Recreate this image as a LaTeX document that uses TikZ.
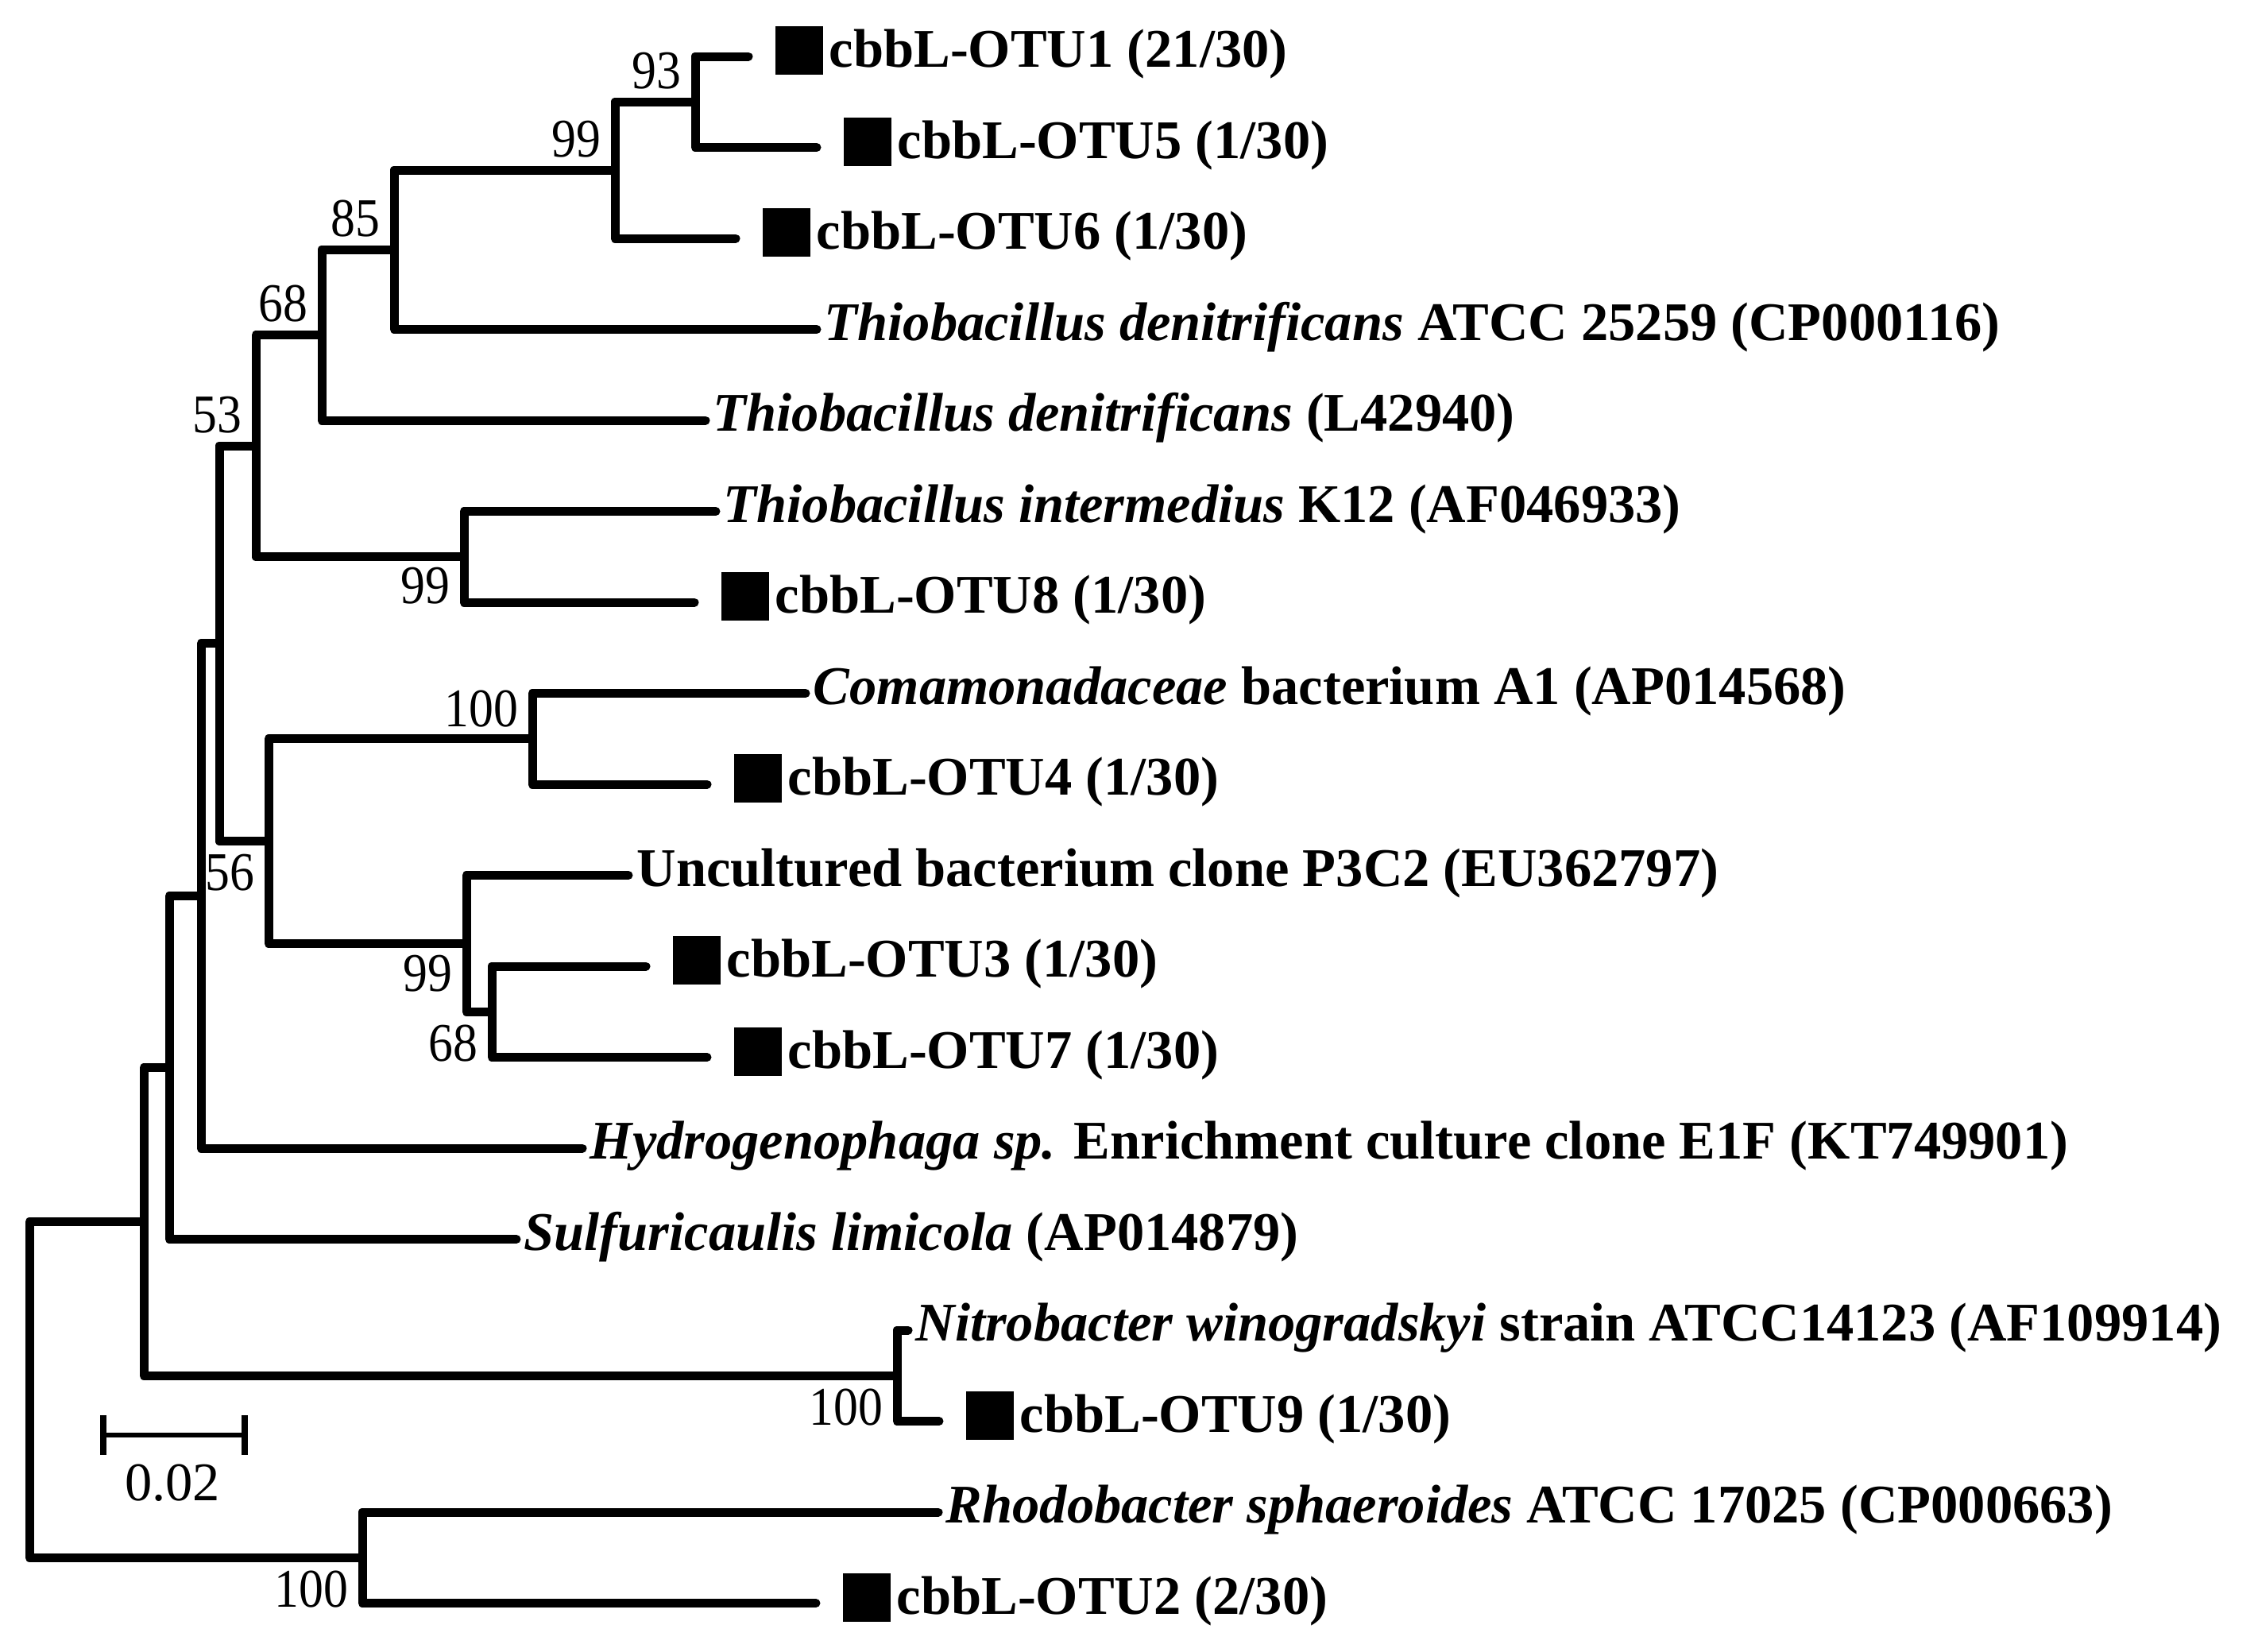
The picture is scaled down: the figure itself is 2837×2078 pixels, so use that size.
\documentclass[tikz,border=0pt]{standalone}
\usepackage{fontspec}
\setmainfont{Liberation Serif}
\usetikzlibrary{calc}
\begin{document}
\begin{tikzpicture}[x=0.1mm,y=-0.1mm,
  br/.style={line width=1.1mm, line cap=round, line join=round},
  leaflab/.style={font=\fontsize{19.5pt}{23pt}\selectfont\bfseries, anchor=base west, inner sep=0pt},
  bslab/.style={font=\fontsize{19.5pt}{23pt}\selectfont, anchor=base east, inner sep=0pt},
  sqbox/.style={fill=black, minimum width=6mm, minimum height=6.1mm, inner sep=0pt, anchor=west}]
\useasboundingbox (0,0) rectangle (2837,2078);

% leaf ends
\coordinate (l0) at (942,71);
\coordinate (l1) at (1028,185.5);
\coordinate (l2) at (926,300);
\coordinate (l3) at (1028,414.5);
\coordinate (l4) at (888,529);
\coordinate (l5) at (901,643.5);
\coordinate (l6) at (874,758);
\coordinate (l7) at (1014,872.5);
\coordinate (l8) at (890,987);
\coordinate (l9) at (791,1101.5);
\coordinate (l10) at (813,1216);
\coordinate (l11) at (890,1330.5);
\coordinate (l12) at (733,1445);
\coordinate (l13) at (650,1559.5);
\coordinate (l14) at (1143,1674);
\coordinate (l15) at (1182,1788.5);
\coordinate (l16) at (1181,1903);
\coordinate (l17) at (1027,2017.5);

% internal nodes
\coordinate (n93) at (875,128.3);
\coordinate (n99a) at (774,214);
\coordinate (n85) at (496,314);
\coordinate (n68a) at (405,421.5);
\coordinate (n99b) at (584,700.8);
\coordinate (n53) at (322,561);
\coordinate (n100a) at (670,929.8);
\coordinate (n68b) at (619,1273.3);
\coordinate (n99c) at (587,1187.4);
\coordinate (n56) at (338,1058.6);
\coordinate (nA) at (276,809.8);
\coordinate (nB) at (253,1127.4);
\coordinate (nC) at (213,1343.5);
\coordinate (nN) at (1129,1731.3);
\coordinate (nD) at (181,1537.4);
\coordinate (nR) at (456,1960.3);
\coordinate (root) at (37,1748.8);

% branches
\draw[br] (n93) |- (l0);
\draw[br] (n93) |- (l1);
\draw[br] (n99a) |- (n93);
\draw[br] (n99a) |- (l2);
\draw[br] (n85) |- (n99a);
\draw[br] (n85) |- (l3);
\draw[br] (n68a) |- (n85);
\draw[br] (n68a) |- (l4);
\draw[br] (n53) |- (n68a);
\draw[br] (n53) |- (n99b);
\draw[br] (n99b) |- (l5);
\draw[br] (n99b) |- (l6);
\draw[br] (nA) |- (n53);
\draw[br] (nA) |- (n56);
\draw[br] (n56) |- (n100a);
\draw[br] (n56) |- (n99c);
\draw[br] (n100a) |- (l7);
\draw[br] (n100a) |- (l8);
\draw[br] (n99c) |- (l9);
\draw[br] (n99c) |- (n68b);
\draw[br] (n68b) |- (l10);
\draw[br] (n68b) |- (l11);
\draw[br] (nB) |- (nA);
\draw[br] (nB) |- (l12);
\draw[br] (nC) |- (nB);
\draw[br] (nC) |- (l13);
\draw[br] (nD) |- (nC);
\draw[br] (nD) |- (nN);
\draw[br] (nN) |- (l14);
\draw[br] (nN) |- (l15);
\draw[br] (root) |- (nD);
\draw[br] (root) |- (nR);
\draw[br] (nR) |- (l16);
\draw[br] (nR) |- (l17);

% square markers
\node[sqbox] (q0) at ($(l0)+(33,-7.5)$) {};
\node[sqbox] (q1) at ($(l1)+(33,-7.5)$) {};
\node[sqbox] (q2) at ($(l2)+(33,-7.5)$) {};
\node[sqbox] (q6) at ($(l6)+(33,-7.5)$) {};
\node[sqbox] (q8) at ($(l8)+(33,-7.5)$) {};
\node[sqbox] (q10) at ($(l10)+(33,-7.5)$) {};
\node[sqbox] (q11) at ($(l11)+(33,-7.5)$) {};
\node[sqbox] (q15) at ($(l15)+(33,-7.5)$) {};
\node[sqbox] (q17) at ($(l17)+(33,-7.5)$) {};

% leaf labels
\node[leaflab] (t0) at ($(l0)+(101,13.5)$) {cbbL-OTU1 (21/30)};
\node[leaflab] (t1) at ($(l1)+(101,13.5)$) {cbbL-OTU5 (1/30)};
\node[leaflab] (t2) at ($(l2)+(101,13.5)$) {cbbL-OTU6 (1/30)};
\node[leaflab] (t3) at ($(l3)+(9,13.5)$) {\textit{Thiobacillus denitrificans} ATCC 25259 (CP000116)};
\node[leaflab] (t4) at ($(l4)+(9,13.5)$) {\textit{Thiobacillus denitrificans} (L42940)};
\node[leaflab] (t5) at ($(l5)+(9,13.5)$) {\textit{Thiobacillus intermedius} K12 (AF046933)};
\node[leaflab] (t6) at ($(l6)+(101,13.5)$) {cbbL-OTU8 (1/30)};
\node[leaflab] (t7) at ($(l7)+(9,13.5)$) {\textit{Comamonadaceae} bacterium A1 (AP014568)};
\node[leaflab] (t8) at ($(l8)+(101,13.5)$) {cbbL-OTU4 (1/30)};
\node[leaflab] (t9) at ($(l9)+(10,13.5)$) {Uncultured bacterium clone P3C2 (EU362797)};
\node[leaflab] (t10) at ($(l10)+(101,13.5)$) {cbbL-OTU3 (1/30)};
\node[leaflab] (t11) at ($(l11)+(101,13.5)$) {cbbL-OTU7 (1/30)};
\node[leaflab] (t12) at ($(l12)+(9,13.5)$) {\textit{Hydrogenophaga sp.} Enrichment culture clone E1F (KT749901)};
\node[leaflab] (t13) at ($(l13)+(9,13.5)$) {\textit{Sulfuricaulis limicola} (AP014879)};
\node[leaflab] (t14) at ($(l14)+(9,13.5)$) {\textit{Nitrobacter winogradskyi} strain ATCC14123 (AF109914)};
\node[leaflab] (t15) at ($(l15)+(101,13.5)$) {cbbL-OTU9 (1/30)};
\node[leaflab] (t16) at ($(l16)+(9,13.5)$) {\textit{Rhodobacter sphaeroides} ATCC 17025 (CP000663)};
\node[leaflab] (t17) at ($(l17)+(101,13.5)$) {cbbL-OTU2 (2/30)};

% bootstrap values
\node[bslab] (b93) at ($(n93)+(-17,-17)$) {\scalebox{0.9}[1]{93}};
\node[bslab] (b99a) at ($(n99a)+(-17,-17)$) {\scalebox{0.9}[1]{99}};
\node[bslab] (b85) at ($(n85)+(-17,-17)$) {\scalebox{0.9}[1]{85}};
\node[bslab] (b68a) at ($(n68a)+(-17,-17)$) {\scalebox{0.9}[1]{68}};
\node[bslab] (b53) at ($(n53)+(-17,-17)$) {\scalebox{0.9}[1]{53}};
\node[bslab] (b100a) at ($(n100a)+(-17,-15)$) {\scalebox{0.9}[1]{100}};
\node[bslab] (b99b) at ($(n99b)+(-17,59)$) {\scalebox{0.9}[1]{99}};
\node[bslab] (b56) at ($(n56)+(-17,62)$) {\scalebox{0.9}[1]{56}};
\node[bslab] (b99c) at ($(n99c)+(-17,60)$) {\scalebox{0.9}[1]{99}};
\node[bslab] (b68b) at ($(n68b)+(-17,62)$) {\scalebox{0.9}[1]{68}};
\node[bslab] (bN) at ($(nN)+(-17,62)$) {\scalebox{0.9}[1]{100}};
\node[bslab] (bR) at ($(nR)+(-17,62)$) {\scalebox{0.9}[1]{100}};

% scale bar
\coordinate (s1) at (130,1806);
\coordinate (s2) at (308,1806);
\draw[line width=0.65mm] (s1) -- (s2);
\draw[line width=0.8mm] ($(s1)+(0,-25)$) -- ($(s1)+(0,25)$);
\draw[line width=0.8mm] ($(s2)+(0,-25)$) -- ($(s2)+(0,25)$);
\node[font=\fontsize{19.5pt}{23pt}\selectfont, anchor=base, inner sep=0pt] (sl) at (217,1888) {0.02};
\end{tikzpicture}
\end{document}
